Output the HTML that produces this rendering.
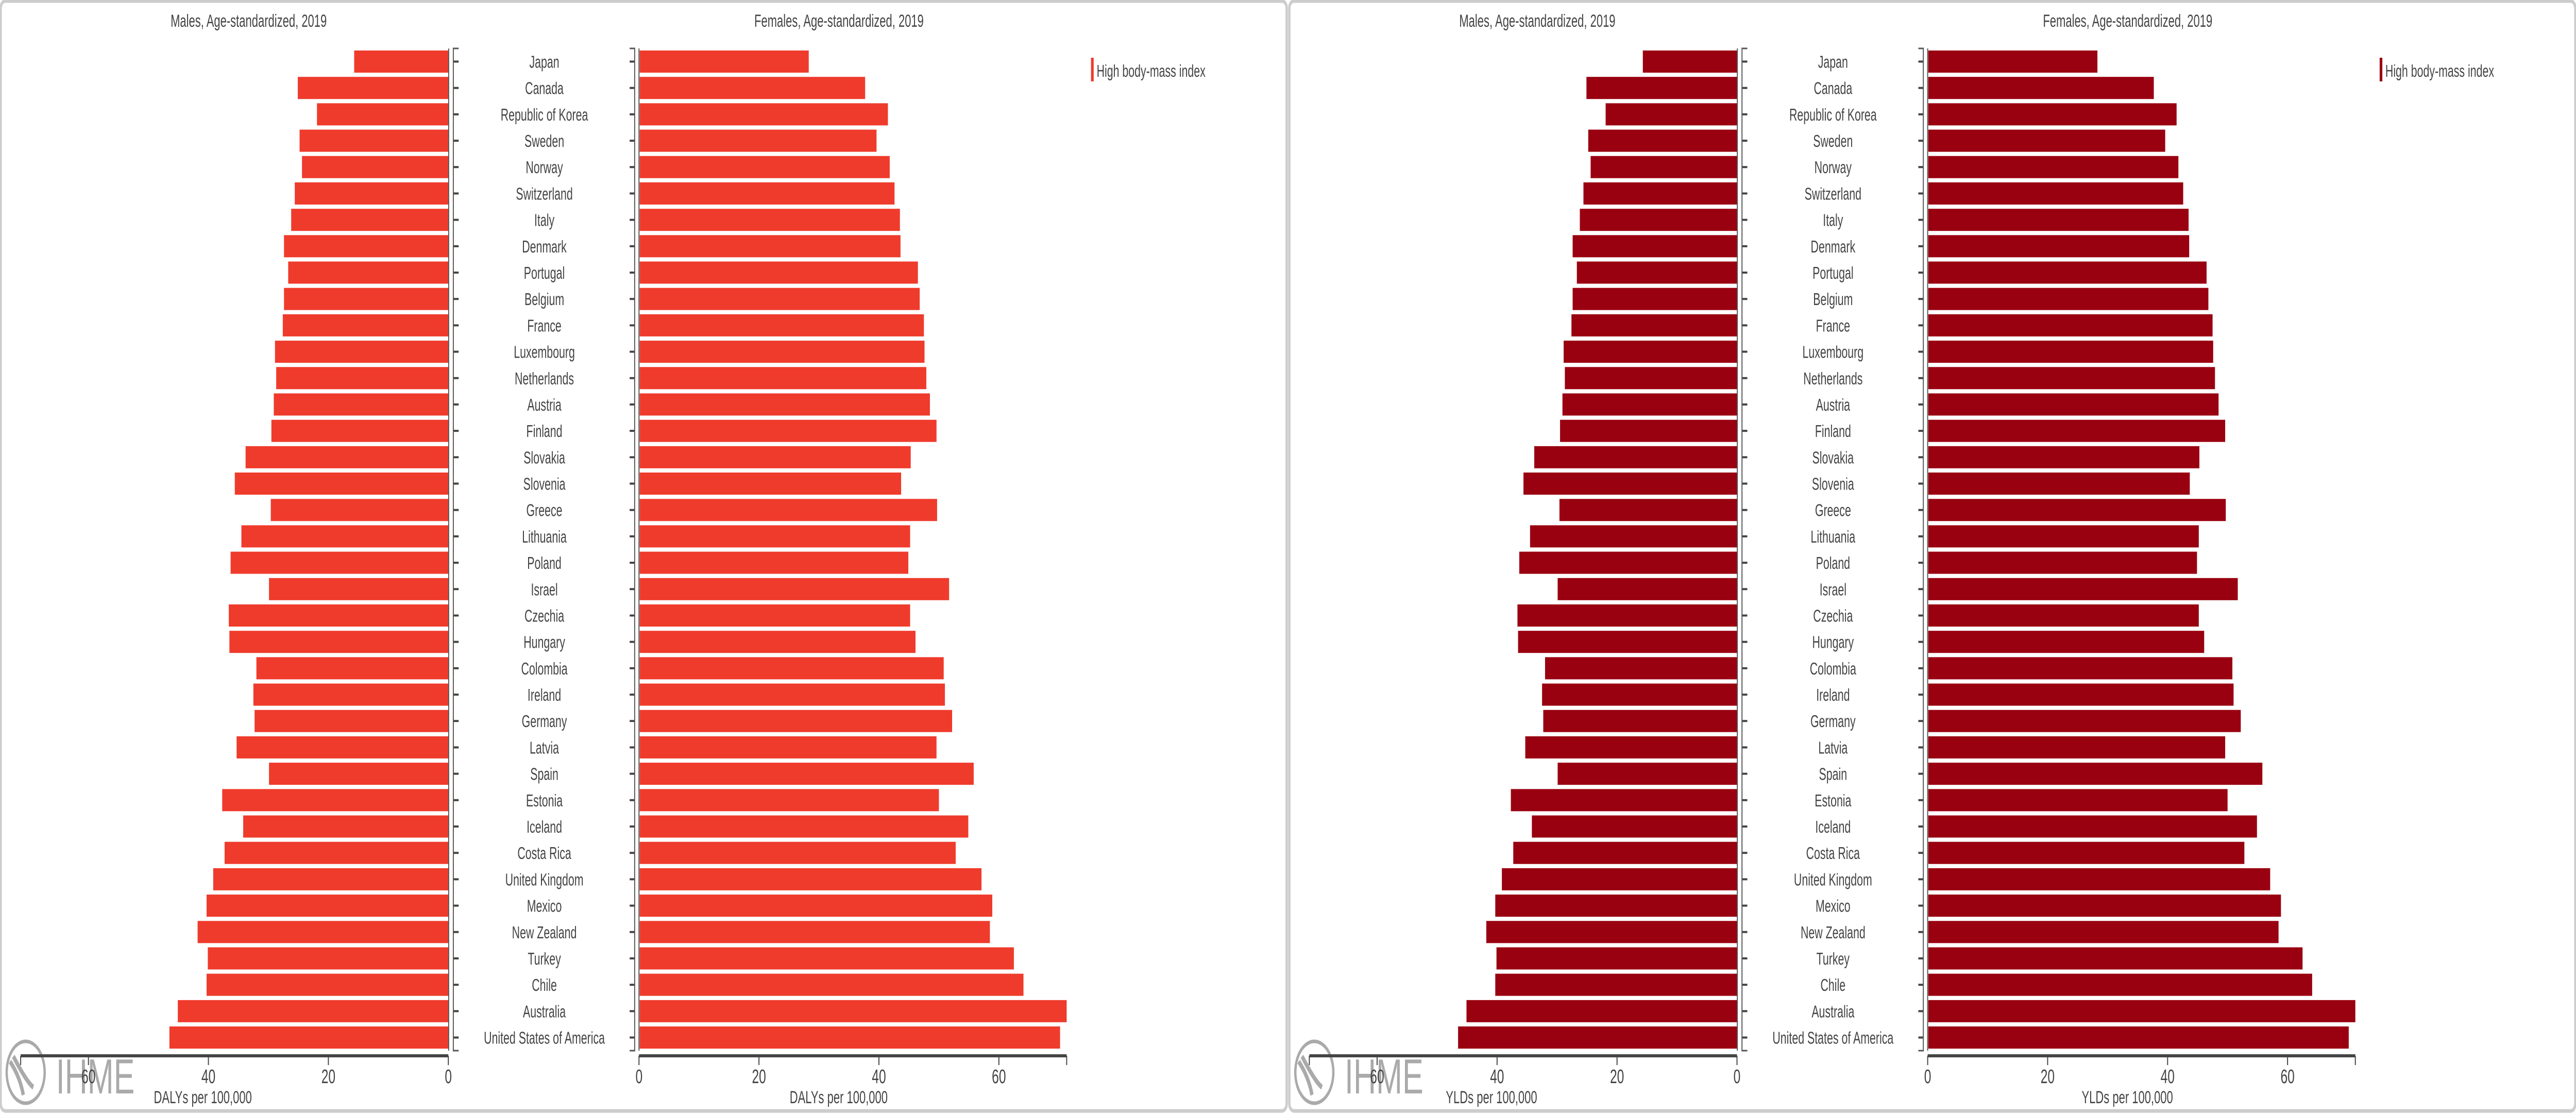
<!DOCTYPE html>
<html><head><meta charset="utf-8"><style>
html,body{margin:0;padding:0;background:#fff;width:100%;height:100%;overflow:hidden}
svg{display:block;width:100vw;height:100vh;font-family:"Liberation Sans",Arial,sans-serif}
</style></head><body>
<svg id="chart" viewBox="0 0 7728 2160" preserveAspectRatio="none" xmlns="http://www.w3.org/2000/svg"></svg>
<script>
const countries = ["Japan","Canada","Republic of Korea","Sweden","Norway","Switzerland","Italy","Denmark","Portugal","Belgium","France","Luxembourg","Netherlands","Austria","Finland","Slovakia","Slovenia","Greece","Lithuania","Poland","Israel","Czechia","Hungary","Colombia","Ireland","Germany","Latvia","Spain","Estonia","Iceland","Costa Rica","United Kingdom","Mexico","New Zealand","Turkey","Chile","Australia","United States of America"];
const malesValues = [15.7,25.1,21.9,24.8,24.4,25.6,26.2,27.4,26.7,27.4,27.6,28.9,28.7,29.1,29.5,33.8,35.6,29.6,34.5,36.3,29.9,36.6,36.5,32.0,32.5,32.3,35.3,29.9,37.7,34.2,37.3,39.2,40.3,41.8,40.1,40.3,45.1,46.5];
const femalesValues = [28.3,37.7,41.5,39.6,41.8,42.6,43.5,43.6,46.5,46.8,47.5,47.6,47.9,48.5,49.6,45.3,43.7,49.7,45.2,44.9,51.7,45.2,46.1,50.8,51.0,52.2,49.6,55.8,50.0,54.9,52.8,57.1,58.9,58.5,62.5,64.1,71.3,70.2];
const xTicks = [0,20,40,60];
const panelMeasures = ["DALYs per 100,000","YLDs per 100,000"];
const legendLabel = "High body-mass index";

const NS="http://www.w3.org/2000/svg";
const svg=document.getElementById('chart');
function mk(tag,attrs,parent){const e=document.createElementNS(NS,tag);for(const k in attrs)e.setAttribute(k,attrs[k]);(parent||svg).appendChild(e);return e;}
const DMAX=71.3, PXW=1283;
const rowTop=98, pitch=51.19, barH=43;
function yPos(i){return rowTop+i*pitch;}

const panels=[{off:0,color:"#ef3b2c"},{off:3866,color:"#990010"}];
panels.forEach((p,pi)=>{
  const g=mk('g',{transform:`translate(${p.off},0)`});
  
  
  const mZero=1345, fZero=1917;
  const xm=v=>mZero - v/DMAX*PXW;
  const xf=v=>fZero + v/DMAX*PXW;
  let t=mk('text',{x:746,y:52,'text-anchor':'middle','font-size':34,fill:'#444'},g);t.textContent="Males, Age-standardized, 2019";
  
  t=mk('text',{x:2517,y:52,'text-anchor':'middle','font-size':34,fill:'#444'},g);t.textContent="Females, Age-standardized, 2019";
  
  countries.forEach((c,i)=>{
    const y=yPos(i);
    let r=mk('rect',{x:xm(malesValues[i]),y:y,width:mZero-xm(malesValues[i]),height:barH,fill:p.color},g);
    
    r=mk('rect',{x:fZero+2,y:y,width:xf(femalesValues[i])-fZero-2,height:barH,fill:p.color},g);
    
    const l=mk('text',{x:1633,y:y+barH/2+12,'text-anchor':'middle','font-size':33,fill:'#444'},g);
    l.textContent=c;
    
    mk('line',{x1:1360,x2:1376,y1:y+barH/2,y2:y+barH/2,stroke:'#444','stroke-width':4},g);
    mk('line',{x1:1889,x2:1904,y1:y+barH/2,y2:y+barH/2,stroke:'#444','stroke-width':4},g);
  });
  const yTop=94, yBot=yPos(countries.length-1)+barH+4;
  mk('line',{x1:mZero+1,x2:mZero+1,y1:yTop,y2:yBot,stroke:'#555','stroke-width':3},g);
  mk('line',{x1:fZero,x2:fZero,y1:yTop,y2:yBot,stroke:'#555','stroke-width':3},g);
  mk('path',{d:`M1376 ${yTop}H1360V${yBot}H1376`,fill:'none',stroke:'#555','stroke-width':3},g);
  mk('path',{d:`M1889 ${yTop}H1904V${yBot}H1889`,fill:'none',stroke:'#555','stroke-width':3},g);
  const lg=mk('g',{},g);
  
  mk('ellipse',{cx:77,cy:2081,rx:57,ry:60,fill:'none',stroke:'#aaa','stroke-width':7},lg);
  mk('path',{d:'M30 2060 Q60 2090 70 2125 M40 2050 Q80 2100 100 2110',fill:'none',stroke:'#aaa','stroke-width':10},lg);
  const it=mk('text',{x:168,y:2122,'font-size':96,fill:'#aaa','textLength':236,lengthAdjust:'spacingAndGlyphs'},lg);it.textContent="IHME";
  const axY=2049;
  mk('line',{x1:xm(DMAX),x2:mZero,y1:axY,y2:axY,stroke:'#444','stroke-width':6},g);
  mk('line',{x1:fZero,x2:xf(DMAX),y1:axY,y2:axY,stroke:'#444','stroke-width':6},g);
  [[xm,'male'],[xf,'female']].forEach(([fn,nm])=>{
    mk('line',{x1:fn(DMAX),x2:fn(DMAX),y1:axY,y2:axY+18,stroke:'#444','stroke-width':3},g);
    xTicks.forEach(v=>{
      const x=fn(v);
      mk('line',{x1:x,x2:x,y1:axY,y2:axY+18,stroke:'#444','stroke-width':3},g);
      const tl=mk('text',{x:x,y:2102,'text-anchor':'middle','font-size':38,fill:'#444'},g);
      tl.textContent=String(v);
      
    });
  });
  let at=mk('text',{x:xm(DMAX/2)-95,y:2141,'text-anchor':'middle','font-size':34,fill:'#444'},g);at.textContent=panelMeasures[pi];
  
  at=mk('text',{x:2516,y:2141,'text-anchor':'middle','font-size':34,fill:'#444'},g);at.textContent=panelMeasures[pi];
  
  const le=mk('g',{},g);
  
  mk('rect',{x:3273,y:112,width:8,height:46,fill:p.color},le);
  const ltx=mk('text',{x:3290,y:149,'font-size':33,fill:'#444'},le);ltx.textContent=legendLabel;
  const b=mk('rect',{x:2,y:2,width:3858,height:2154,rx:14,fill:'none',stroke:'#ccc','stroke-width':7},g);
  
});
</script>
</body></html>
